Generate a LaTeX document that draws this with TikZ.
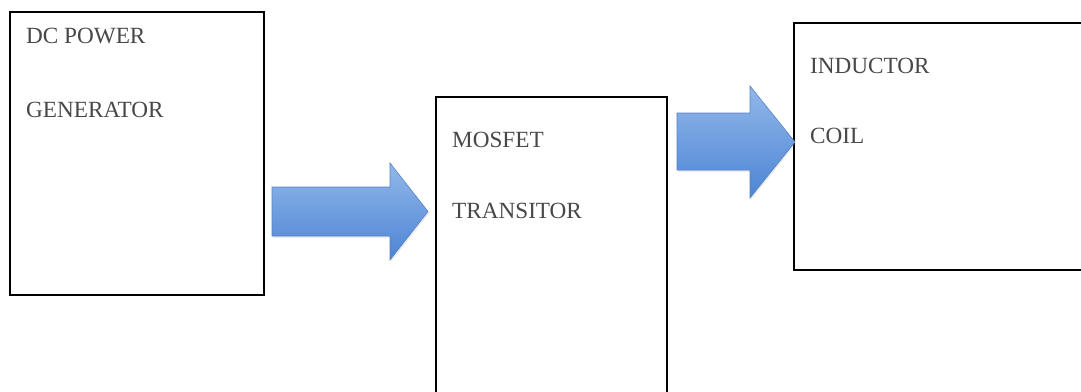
\documentclass[tikz,border=0pt]{standalone}
\usepackage{fontspec}
\setmainfont{Liberation Serif}
\usetikzlibrary{shadows}
\definecolor{txtgray}{RGB}{72,72,72}
\definecolor{arrtop}{RGB}{146,184,234}
\definecolor{arrbot}{RGB}{76,132,212}
\definecolor{arredge}{RGB}{86,130,196}
\tikzset{
  blockbox/.style={draw=black, line width=1.3pt, fill=white, rectangle, inner sep=0pt},
  label/.style={anchor=base west, inner sep=0pt, text=txtgray, font=\fontsize{23.2}{27}\selectfont},
  blockarrow/.style={draw=arredge, line width=0.6pt, top color=arrtop, bottom color=arrbot,
     drop shadow={shadow xshift=1pt, shadow yshift=-2pt, opacity=0.15}}
}
\begin{document}
\begin{tikzpicture}[x=1pt,y=-1pt]
\useasboundingbox (0,0) rectangle (1081,391);
% boxes
\node[blockbox, minimum width=254pt, minimum height=283pt] (gen) at (137,153.5) {};
\node[blockbox, minimum width=231pt, minimum height=298pt] (mos) at (551.5,246) {};
\node[blockbox, minimum width=291pt, minimum height=247pt] (ind) at (939.5,146.5) {};
% labels
\node[label] (g1) at (26,43) {DC POWER};
\node[label] (g2) at (26,117) {GENERATOR};
\node[label] (m1) at (452,147) {MOSFET};
\node[label] (m2) at (452,218) {TRANSITOR};
\node[label] (i1) at (810,73) {INDUCTOR};
\node[label] (i2) at (810,143) {COIL};
% block arrows
\path[blockarrow] (272,187) -- (390,187) -- (390,163) -- (428,211.5) -- (390,260) -- (390,236) -- (272,236) -- cycle;
\path[blockarrow] (677,113) -- (750,113) -- (750,86) -- (795,142) -- (750,198) -- (750,170) -- (677,170) -- cycle;
\end{tikzpicture}
\end{document}
